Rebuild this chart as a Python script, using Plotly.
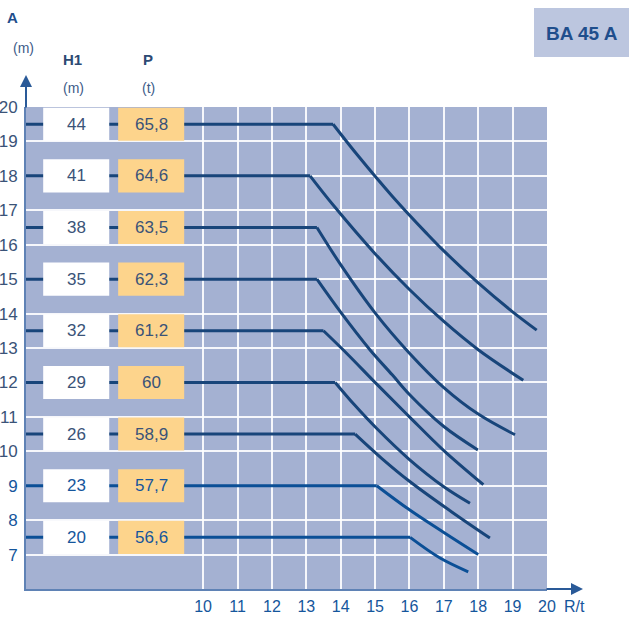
import plotly.graph_objects as go

# ---- data ----
A_levels = [19.5, 18, 16.5, 15, 13.5, 12, 10.5, 9, 7.5]
H1_values = ["44", "41", "38", "35", "32", "29", "26", "23", "20"]
P_values = ["65,8", "64,6", "63,5", "62,3", "61,2", "60", "58,9", "57,7", "56,6"]

# radius where each line leaves the flat part
break_R = [13.78, 13.11, 13.31, 13.31, 13.5, 13.84, 14.42, 15.05, 16.02]

# descending parts (start at the break)
curve_R = [
    [13.78, 14.5, 15.5, 16.5, 17.0, 18.0, 19.0, 19.7],
    [13.11, 13.8, 15.0, 16.0, 17.0, 18.0, 19.31],
    [13.31, 14.0, 15.0, 16.0, 17.0, 18.0, 19.07],
    [13.31, 14.0, 14.85, 15.5, 16.0, 17.0, 17.99],
    [13.5, 14.2, 15.05, 16.0, 17.0, 18.15],
    [13.84, 14.4, 15.05, 16.0, 17.0, 17.76],
    [14.42, 15.2, 16.0, 17.2, 18.34],
    [15.05, 16.0, 17.0, 18.0],
    [16.02, 16.89, 17.71],
]
curve_A = [
    [19.5, 18.59, 17.41, 16.33, 15.82, 14.89, 14.05, 13.52],
    [18.0, 17.13, 15.74, 14.70, 13.77, 12.95, 12.06],
    [16.5, 15.42, 14.02, 12.85, 11.85, 11.08, 10.48],
    [15.0, 14.04, 12.95, 12.22, 11.65, 10.72, 10.04],
    [13.5, 12.82, 11.95, 11.0, 10.02, 9.03],
    [12.0, 11.35, 10.66, 9.76, 8.97, 8.49],
    [10.5, 9.79, 9.13, 8.26, 7.48],
    [9.0, 8.3, 7.64, 7.0],
    [7.5, 6.9, 6.5],
]

x_ticks = [10, 11, 12, 13, 14, 15, 16, 17, 18, 19, 20]
y_ticks = [7, 8, 9, 10, 11, 12, 13, 14, 15, 16, 17, 18, 19, 20]

X_MIN, X_MAX = 4.85, 20
Y_MIN, Y_MAX = 6, 20

# ---- layout helpers ----
W, H = 635, 618
L, R_, T, B = 26, 88, 107, 29
PW, PH = W - L - R_, H - T - B


def pxx(px):
    return (px - L) / PW


def pxy(py):
    return (H - B - py) / PH


TOP_COL = "#18457a"
BOT_COL = "#0b4f96"
TOP_TXT = "#3a5378"
BOT_TXT = "#15569c"

fig = go.Figure()

for i in range(len(A_levels)):
    col = TOP_COL if i < 7 else BOT_COL
    fig.add_trace(go.Scatter(
        x=[X_MIN, break_R[i]], y=[A_levels[i], A_levels[i]], mode="lines",
        line=dict(color=col, width=3), hoverinfo="skip", showlegend=False,
    ))
    fig.add_trace(go.Scatter(
        x=curve_R[i], y=curve_A[i], mode="lines",
        line=dict(color=col, width=3, shape="spline", smoothing=1.0),
        hoverinfo="skip", showlegend=False,
    ))

shapes = []
annotations = []
for i, (a, h1, p) in enumerate(zip(A_levels, H1_values, P_values)):
    tcol = TOP_TXT if i < 7 else BOT_TXT
    shapes.append(dict(type="rect", xref="x", yref="y", x0=5.35, x1=7.27,
                       y0=a - 0.48, y1=a + 0.48, fillcolor="white",
                       line=dict(width=0), layer="above"))
    shapes.append(dict(type="rect", xref="x", yref="y", x0=7.53, x1=9.45,
                       y0=a - 0.48, y1=a + 0.48, fillcolor="#fdd48c",
                       line=dict(width=0), layer="above"))
    annotations.append(dict(x=6.31, y=a, xref="x", yref="y", text=h1,
                            showarrow=False, xanchor="center",
                            yanchor="middle",
                            font=dict(size=17, color=tcol)))
    annotations.append(dict(x=8.49, y=a, xref="x", yref="y", text=p,
                            showarrow=False, xanchor="center",
                            yanchor="middle",
                            font=dict(size=17, color=tcol)))

# title box
shapes.append(dict(type="rect", xref="paper", yref="paper",
                   x0=pxx(534), x1=pxx(629), y0=pxy(57), y1=pxy(8),
                   fillcolor="#bcc6df", line=dict(width=0)))
annotations.append(dict(x=pxx(582), y=pxy(33), xref="paper", yref="paper",
                        text="<b>BA 45 A</b>", showarrow=False,
                        xanchor="center", yanchor="middle",
                        font=dict(size=19, color="#1f4e8c")))

# headers
hdr = [
    ("<b>A</b>", 12, 17, 15, "#1f4e8c"),
    ("(m)", 23, 48, 14, "#3d5c88"),
    ("<b>H1</b>", 72, 60, 15, "#2c4a74"),
    ("(m)", 73, 88, 14, "#3d5c88"),
    ("<b>P</b>", 148, 60, 15, "#2c4a74"),
    ("(t)", 148, 88, 14, "#3d5c88"),
    ("R/t", 574, 606, 16, "#15569c"),
]
for txt, x, y, s, c in hdr:
    annotations.append(dict(x=pxx(x), y=pxy(y), xref="paper", yref="paper",
                            text=txt, showarrow=False,
                            xanchor="center", yanchor="middle",
                            font=dict(size=s, color=c)))

# axis arrows
annotations.append(dict(x=0, y=pxy(75), xref="paper", yref="paper",
                        ax=0, ay=34, text="",
                        showarrow=True, arrowhead=2, arrowsize=1.2,
                        arrowwidth=2, arrowcolor="#2a5a98"))
annotations.append(dict(x=pxx(583), y=0, xref="paper", yref="paper",
                        ax=-38, ay=0, text="",
                        showarrow=True, arrowhead=2, arrowsize=1.2,
                        arrowwidth=2, arrowcolor="#2a5a98"))

y_text = []
for v in y_ticks:
    c = BOT_TXT if v <= 9 else TOP_TXT
    y_text.append(f"<span style='color:{c}'>{v}</span>")

fig.update_layout(
    width=W, height=H,
    margin=dict(l=L, r=R_, t=T, b=B, autoexpand=False),
    paper_bgcolor="white",
    plot_bgcolor="#a4b1d2",
    font=dict(family="Arial, Liberation Sans, sans-serif"),
    shapes=shapes,
    annotations=annotations,
    showlegend=False,
    xaxis=dict(range=[X_MIN, X_MAX], tickvals=x_ticks,
               ticktext=[str(v) for v in x_ticks], automargin=False,
               showgrid=True, gridcolor="rgba(255,255,255,0.9)", gridwidth=1.5,
               zeroline=False, showline=True, linecolor="#5f82b5",
               linewidth=2, ticks="", ticklabelstandoff=2,
               tickfont=dict(size=16, color=BOT_TXT), fixedrange=True),
    yaxis=dict(range=[Y_MIN, Y_MAX], tickvals=y_ticks, ticktext=y_text,
               automargin=False,
               showgrid=True, gridcolor="rgba(255,255,255,0.9)", gridwidth=1.5,
               zeroline=False, showline=True, linecolor="#5f82b5",
               linewidth=2, ticks="", ticklabelstandoff=3,
               tickfont=dict(size=17, color=TOP_TXT), fixedrange=True),
)

fig.write_html("out.html",
               config={"displayModeBar": False},
               post_script="document.body.style.margin='0';"
                           "document.body.style.overflow='hidden';")
